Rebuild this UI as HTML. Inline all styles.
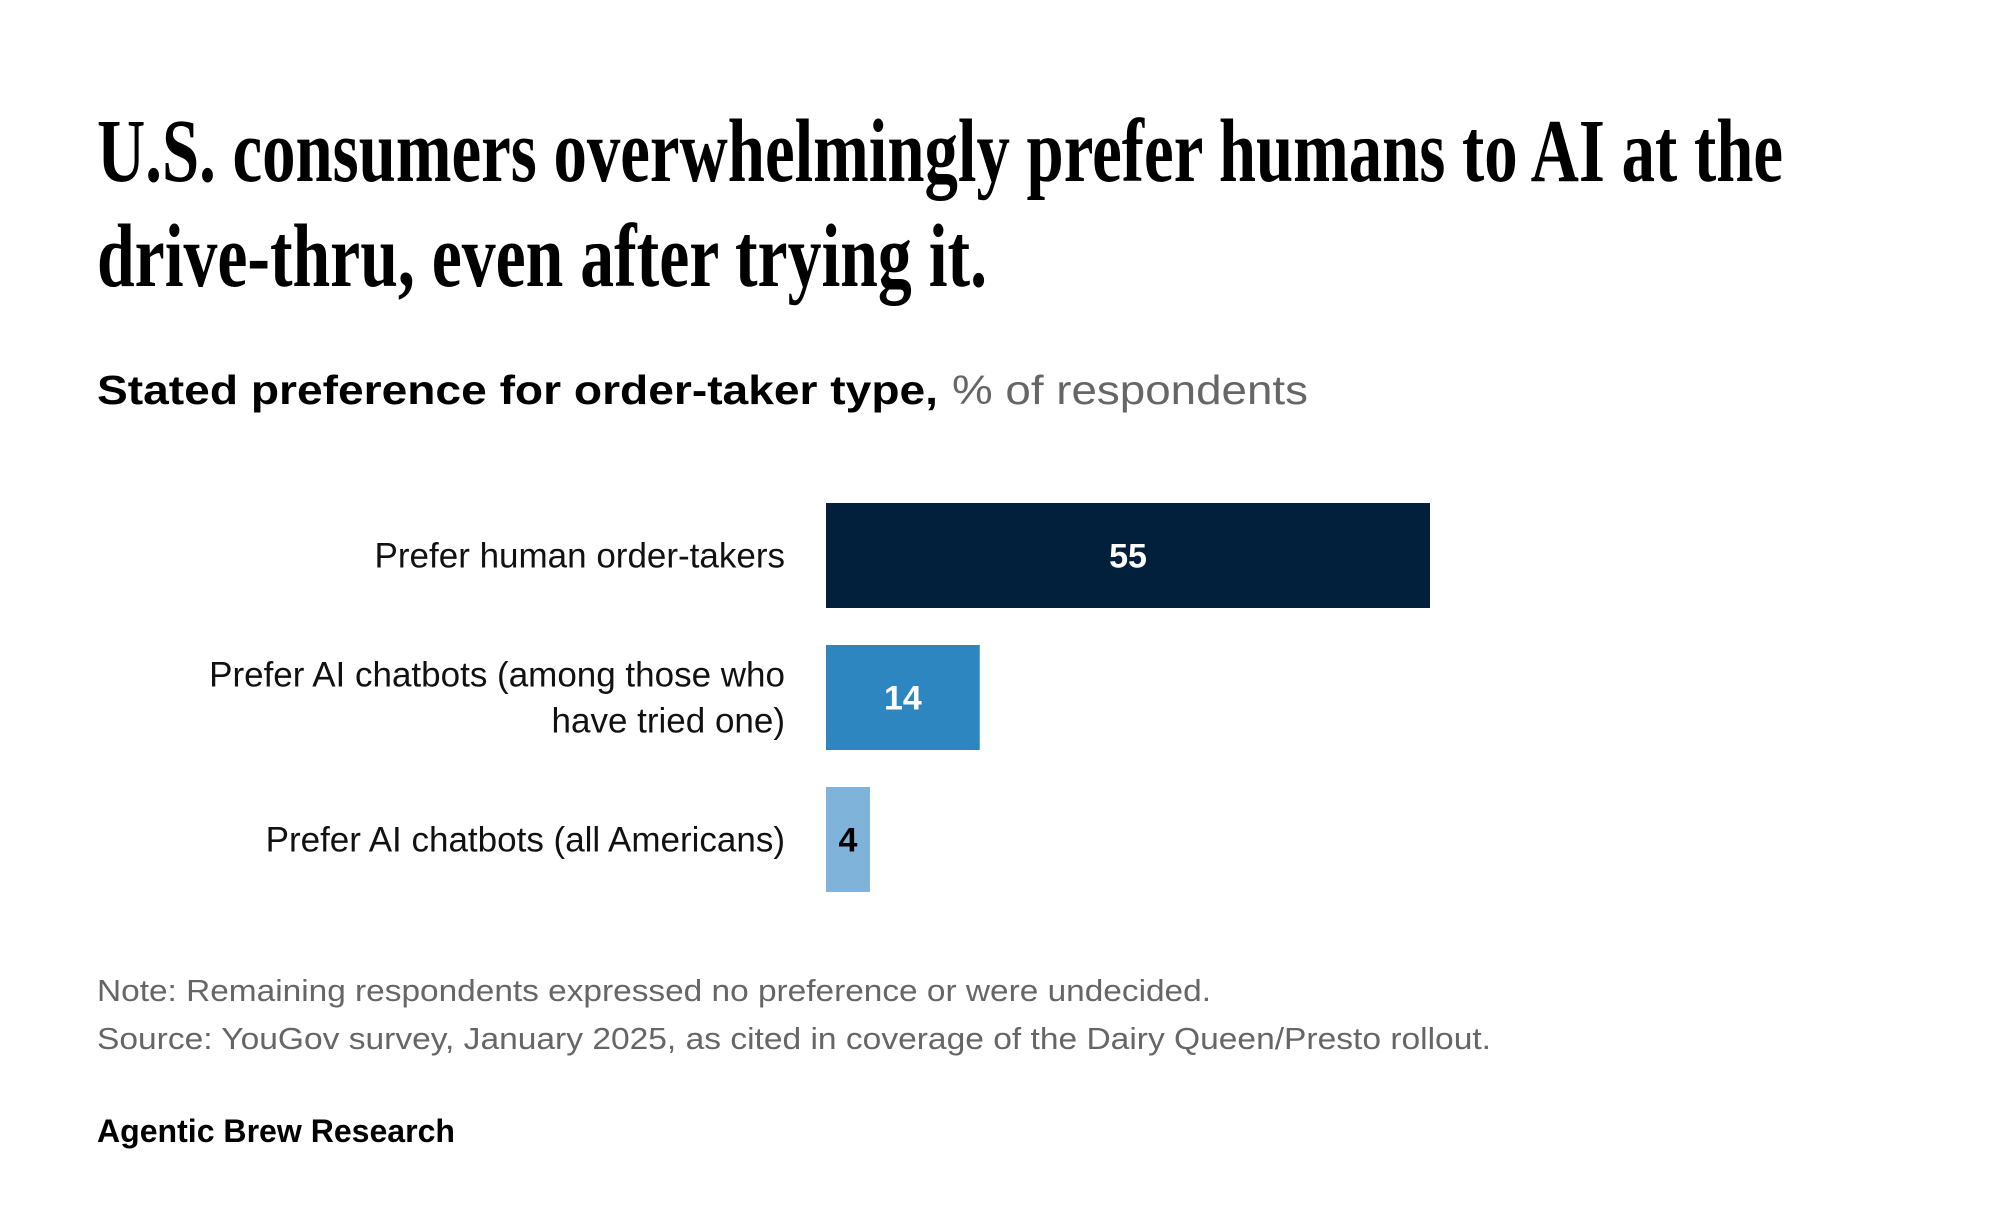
<!DOCTYPE html>
<html><head><meta charset="utf-8"><style>
html,body{margin:0;padding:0;background:#fff;}
svg{display:block;font-family:"Liberation Sans",sans-serif;}
</style></head><body>
<svg id="chart" width="2000" height="1210" viewBox="0 0 2000 1210">
<text x="97" y="181" font-family="Liberation Serif, serif" font-weight="bold" font-size="90" textLength="1686" lengthAdjust="spacingAndGlyphs" fill="#000">U.S. consumers overwhelmingly prefer humans to AI at the</text>
<text x="97" y="286" font-family="Liberation Serif, serif" font-weight="bold" font-size="90" textLength="890" lengthAdjust="spacingAndGlyphs" fill="#000">drive-thru, even after trying it.</text>
<text x="97" y="404" font-size="41" font-weight="bold" fill="#000" textLength="841" lengthAdjust="spacingAndGlyphs">Stated preference for order-taker type,</text>
<text x="952" y="404" font-size="41" fill="#666" textLength="356" lengthAdjust="spacingAndGlyphs">% of respondents</text>
<g id="bars"></g>
<text x="97" y="1001" font-size="31" fill="#666" textLength="1114" lengthAdjust="spacingAndGlyphs">Note: Remaining respondents expressed no preference or were undecided.</text>
<text x="97" y="1049" font-size="31" fill="#666" textLength="1394" lengthAdjust="spacingAndGlyphs">Source: YouGov survey, January 2025, as cited in coverage of the Dairy Queen/Presto rollout.</text>
<text x="97" y="1142" font-size="32" font-weight="bold" fill="#000" textLength="358" lengthAdjust="spacingAndGlyphs">Agentic Brew Research</text>
</svg>
<script>
const categories = [["Prefer human order-takers"],["Prefer AI chatbots (among those who","have tried one)"],["Prefer AI chatbots (all Americans)"]];
const values = [55, 14, 4];
const barColors = ["#021f3c", "#2e86c1", "#7fb3d9"];
const labelColors = ["#fff", "#fff", "#000"];
const NS = "http://www.w3.org/2000/svg";
const x0 = 826, unit = 604/55, y0 = 503, step = 142, bh = 105;
const xs = v => x0 + v*unit;
const g = document.getElementById("bars");
values.forEach((v,i)=>{
  const y = y0 + i*step;
  const r = document.createElementNS(NS,"rect");
  r.setAttribute("x", x0); r.setAttribute("y", y);
  r.setAttribute("width", xs(v)-x0); r.setAttribute("height", bh);
  r.setAttribute("fill", barColors[i]);
  
  
  g.appendChild(r);
  const t = document.createElementNS(NS,"text");
  t.setAttribute("x", (x0+xs(v))/2); t.setAttribute("y", y+bh/2+12);
  t.setAttribute("text-anchor","middle"); t.setAttribute("font-size","34");
  t.setAttribute("font-weight","bold"); t.setAttribute("fill", labelColors[i]);
  t.textContent = v;
  
  
  g.appendChild(t);
  const lines = categories[i];
  lines.forEach((ln,j)=>{
    const c = document.createElementNS(NS,"text");
    const cy = y + bh/2 + 12 + (j - (lines.length-1)/2)*46;
    c.setAttribute("x", 785); c.setAttribute("y", cy);
    c.setAttribute("text-anchor","end"); c.setAttribute("font-size","35"); c.setAttribute("fill","#111");
    c.textContent = ln;
    
    
    g.appendChild(c);
  });
});
</script>
</body></html>
